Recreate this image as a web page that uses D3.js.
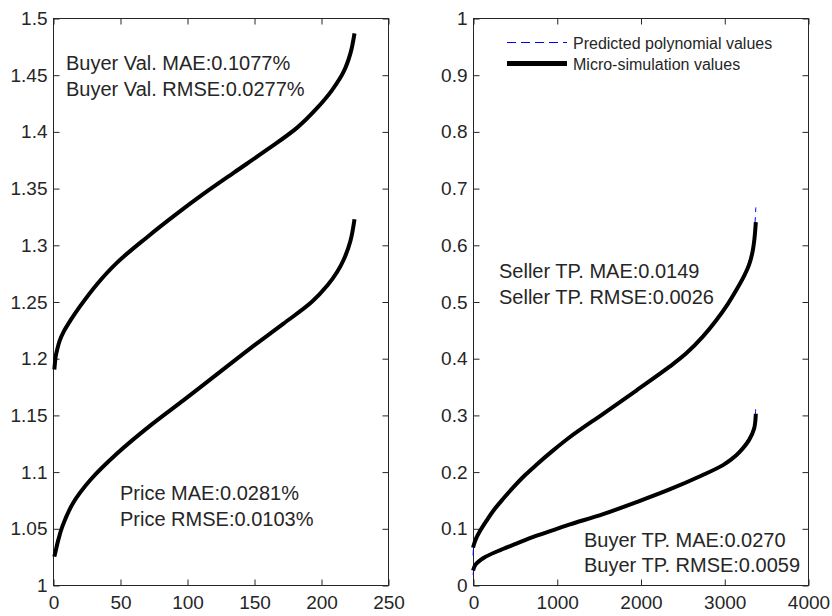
<!DOCTYPE html>
<html>
<head>
<meta charset="utf-8">
<script src="https://cdn.jsdelivr.net/npm/d3@7"></script>
<style>
  html, body { margin: 0; padding: 0; background: #fff; }
  svg { display: block; }
  text { font-family: "Liberation Sans", Arial, Helvetica, sans-serif; fill: #262626; }
</style>
</head>
<body>
<svg id="chart" width="832" height="616"></svg>
<script>
// ---- Left panel: buyer valuation and price (index 1..225) ----
const buyerValX = [1, 1.5, 2, 3, 5, 8, 13, 20, 33, 48, 70, 92, 112, 135, 160, 182, 197, 208, 217, 222, 225];
const buyerValY = [1.190, 1.1965, 1.2015, 1.207, 1.2155, 1.2235, 1.2333, 1.2455, 1.2655, 1.2845, 1.3065, 1.327, 1.3446, 1.3636, 1.3841, 1.4031, 1.4205, 1.436, 1.4529, 1.469, 1.4865];

const priceX = [1, 1.5, 2, 4, 7, 15, 28, 48, 73, 98, 122, 147, 172, 193, 205, 212, 217, 222, 225];
const priceY = [1.025, 1.0275, 1.030, 1.040, 1.0517, 1.0723, 1.0928, 1.1162, 1.141, 1.1635, 1.1855, 1.2085, 1.2305, 1.2495, 1.2645, 1.276, 1.287, 1.3036, 1.3226];

// ---- Right panel: seller / buyer trading probabilities (index 1..3377) ----
const sellerX     = [1, 10, 40, 87, 160, 245, 360, 483, 620, 761, 950, 1158, 1554, 1950, 2347, 2550, 2744, 2900, 3040, 3139, 3230, 3297, 3337, 3360, 3377];
const sellerSimY  = [0.066, 0.071, 0.083, 0.096, 0.113, 0.1314, 0.152, 0.1725, 0.1935, 0.2125, 0.2365, 0.261, 0.302, 0.343, 0.385, 0.409, 0.438, 0.466, 0.495, 0.519, 0.543, 0.565, 0.587, 0.610, 0.640];
const sellerPolyY = [0.052, 0.068, 0.082, 0.097, 0.114, 0.1324, 0.153, 0.1735, 0.1945, 0.2135, 0.2375, 0.262, 0.303, 0.344, 0.386, 0.410, 0.440, 0.468, 0.497, 0.522, 0.547, 0.571, 0.596, 0.623, 0.666];

const buyerX      = [1, 30, 130, 300, 500, 760, 1000, 1158, 1554, 1950, 2347, 2744, 2980, 3080, 3179, 3297, 3357, 3377];
const buyerSimY   = [0.0256, 0.036, 0.048, 0.060, 0.072, 0.087, 0.099, 0.107, 0.125, 0.146, 0.1685, 0.194, 0.211, 0.221, 0.234, 0.256, 0.276, 0.302];
const buyerPolyY  = [0.018, 0.035, 0.048, 0.060, 0.072, 0.087, 0.099, 0.107, 0.125, 0.146, 0.169, 0.195, 0.213, 0.223, 0.237, 0.260, 0.283, 0.3166];

// ---- Axis ticks ----
const leftXTicks  = [0, 50, 100, 150, 200, 250];
const leftYTicks  = [1, 1.05, 1.1, 1.15, 1.2, 1.25, 1.3, 1.35, 1.4, 1.45, 1.5];
const rightXTicks = [0, 1000, 2000, 3000, 4000];
const rightYTicks = [0, 0.1, 0.2, 0.3, 0.4, 0.5, 0.6, 0.7, 0.8, 0.9, 1];

// ---- Text ----
const legendLabels = ["Predicted polynomial values", "Micro-simulation values"];
const leftNotes  = [["Buyer Val. MAE:0.1077%", "Buyer Val. RMSE:0.0277%"], ["Price MAE:0.0281%", "Price RMSE:0.0103%"]];
const rightNotes = [["Seller TP. MAE:0.0149", "Seller TP. RMSE:0.0026"], ["Buyer TP. MAE:0.0270", "Buyer TP. RMSE:0.0059"]];

const svg = d3.select("#chart");
const TOP = 18, BOTTOM = 585;
const tickFont = "19px";
const noteFont = "20px";
const axisColor = "#262626";

function fmt(v) { return d3.format("~g")(v); }

function panel(x0, x1, xDomain, yDomain, xTicks, yTicks) {
  const x = d3.scaleLinear().domain(xDomain).range([x0, x1]);
  const y = d3.scaleLinear().domain(yDomain).range([BOTTOM, TOP]);
  const g = svg.append("g");

  // axes box
  g.append("rect")
    .attr("x", x0 + 0.5).attr("y", TOP + 0.5)
    .attr("width", x1 - x0).attr("height", BOTTOM - TOP)
    .attr("fill", "none").attr("stroke", axisColor).attr("stroke-width", 1);

  const styleAxis = sel => {
    sel.select(".domain").remove();
    sel.selectAll("line").attr("stroke", axisColor);
    sel.selectAll("text").attr("fill", axisColor).style("font-size", tickFont)
      .style("font-family", "'Liberation Sans', Arial, sans-serif");
  };

  // inward ticks on all four sides, labels on bottom and left
  g.append("g").attr("transform", `translate(0.5,${BOTTOM + 0.5})`)
    .call(d3.axisBottom(x).tickValues(xTicks).tickFormat(fmt).tickSize(-6).tickPadding(10))
    .call(styleAxis);
  g.append("g").attr("transform", `translate(0.5,${TOP + 0.5})`)
    .call(d3.axisTop(x).tickValues(xTicks).tickFormat("").tickSize(-6))
    .call(styleAxis);
  g.append("g").attr("transform", `translate(${x0 + 0.5},0.5)`)
    .call(d3.axisLeft(y).tickValues(yTicks).tickFormat(fmt).tickSize(-6).tickPadding(6))
    .call(styleAxis);
  g.append("g").attr("transform", `translate(${x1 + 0.5},0.5)`)
    .call(d3.axisRight(y).tickValues(yTicks).tickFormat("").tickSize(-6))
    .call(styleAxis);

  return { x, y, g };
}

function drawLine(p, xs, ys, opts) {
  const line = d3.line()
    .x((d, i) => p.x(xs[i]))
    .y(d => p.y(d))
    .curve(d3.curveCatmullRom.alpha(0.5));
  p.g.append("path")
    .attr("d", line(ys))
    .attr("fill", "none")
    .attr("stroke", opts.color)
    .attr("stroke-width", opts.width)
    .attr("stroke-dasharray", opts.dash || null)
    .attr("stroke-linejoin", "round")
    .attr("stroke-linecap", "butt");
}

function notes(p, lines, x, y, dy) {
  lines.forEach((t, i) => {
    p.g.append("text").attr("x", x).attr("y", y + i * dy)
      .style("font-size", noteFont).text(t);
  });
}

// Left panel
const L = panel(53, 388, [0, 250], [1, 1.5], leftXTicks, leftYTicks);
drawLine(L, buyerValX, buyerValY, { color: "#000", width: 4 });
drawLine(L, priceX, priceY, { color: "#000", width: 4 });
notes(L, leftNotes[0], 66, 70, 25.5);
notes(L, leftNotes[1], 120, 500, 25.5);

// Right panel
const R = panel(473, 808, [0, 4000], [0, 1], rightXTicks, rightYTicks);
drawLine(R, sellerX, sellerPolyY, { color: "#0000ff", width: 1, dash: "9,5" });
drawLine(R, buyerX, buyerPolyY, { color: "#0000ff", width: 1, dash: "9,5" });
drawLine(R, sellerX, sellerSimY, { color: "#000", width: 4 });
drawLine(R, buyerX, buyerSimY, { color: "#000", width: 4 });
notes(R, rightNotes[0], 499, 278, 26);
notes(R, rightNotes[1], 584, 547, 25);

// Legend (no frame)
const leg = R.g.append("g");
const legRows = [
  { y: 42.5, color: "#0000ff", width: 1, dash: "9,5" },
  { y: 63.5, color: "#000", width: 5, dash: null }
];
legRows.forEach((r, i) => {
  leg.append("line").attr("x1", 507).attr("x2", 567).attr("y1", r.y).attr("y2", r.y)
    .attr("stroke", r.color).attr("stroke-width", r.width).attr("stroke-dasharray", r.dash);
  leg.append("text").attr("x", 573).attr("y", r.y + 6)
    .style("font-size", "16px").text(legendLabels[i]);
});
</script>
</body>
</html>
